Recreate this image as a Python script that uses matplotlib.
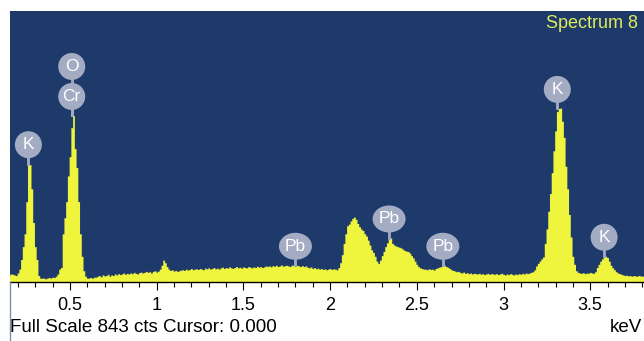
import numpy as np
import matplotlib.pyplot as plt
import matplotlib.transforms as mtransforms
from matplotlib.patches import Ellipse
from matplotlib.lines import Line2D

# EDS spectrum, 10 eV channels starting at 0.15 keV
E_START = 0.15
E_STEP = 0.01
counts = [
    22, 25, 24, 22, 20, 28, 40, 70, 110, 150,
    250, 368, 365, 290, 185, 110, 70, 20, 12, 12,
    12, 10, 12, 14, 12, 15, 14, 18, 25, 40,
    45, 150, 200, 250, 330, 390, 480, 518, 415, 356,
    250, 150, 80, 35, 18, 12, 12, 14, 12, 15,
    15, 18, 20, 16, 22, 19, 20, 24, 18, 22,
    20, 25, 22, 26, 23, 25, 28, 24, 27, 25,
    28, 26, 30, 27, 25, 29, 31, 28, 30, 33,
    30, 32, 28, 33, 35, 31, 34, 40, 52, 68,
    60, 48, 40, 36, 38, 34, 36, 33, 35, 37,
    38, 36, 40, 37, 39, 42, 38, 40, 41, 39,
    42, 40, 38, 43, 41, 44, 40, 42, 45, 41,
    43, 40, 44, 46, 42, 45, 43, 47, 44, 42,
    45, 48, 44, 46, 43, 47, 45, 44, 48, 46,
    44, 47, 45, 49, 46, 48, 45, 47, 50, 48,
    50, 47, 51, 49, 52, 48, 50, 53, 49, 51,
    52, 50, 48, 53, 51, 49, 52, 50, 48, 51,
    48, 50, 46, 44, 47, 42, 45, 41, 43, 40,
    42, 39, 41, 38, 40, 42, 39, 41, 40, 38,
    45, 60, 85, 120, 150, 175, 180, 190, 198, 202,
    195, 182, 172, 165, 160, 150, 143, 130, 115, 100,
    92, 80, 65, 58, 68, 82, 95, 110, 122, 135,
    137, 120, 115, 112, 110, 108, 106, 102, 98, 96,
    95, 90, 82, 75, 65, 55, 48, 44, 42, 40,
    40, 38, 41, 39, 40, 37, 42, 44, 46, 48,
    50, 52, 48, 46, 42, 38, 36, 34, 32, 33,
    30, 28, 31, 27, 29, 26, 28, 25, 27, 26,
    25, 27, 24, 26, 23, 25, 27, 24, 26, 25,
    24, 26, 23, 25, 27, 24, 22, 25, 23, 26,
    24, 22, 25, 23, 26, 24, 27, 25, 28, 26,
    28, 30, 32, 38, 50, 58, 65, 72, 78, 120,
    165, 220, 275, 340, 408, 470, 530, 540, 541, 500,
    450, 360, 290, 210, 140, 80, 55, 35, 30, 28,
    27, 29, 26, 28, 27, 30, 28, 27, 32, 45,
    55, 65, 72, 78, 80, 76, 65, 52, 44, 38,
    32, 28, 26, 24, 22, 20, 21, 19, 20, 18,
    20, 19, 18, 20, 19, 18, 19,
]
counts = np.array(counts)
energy = np.round(E_START + E_STEP * np.arange(len(counts)), 2)

full_scale = 843
spectrum_name = 'Spectrum 8'

# element markers: symbol, line energy (keV), stacking level
peak_labels = ['K', 'Cr', 'O', 'Pb', 'Pb', 'Pb', 'K', 'K']
peak_energies = [0.26, 0.51, 0.51, 1.80, 2.34, 2.65, 3.31, 3.58]
peak_stack = [0, 0, 1, 0, 0, 0, 0, 0]

tick_values = [0.5, 1, 1.5, 2, 2.5, 3, 3.5]
tick_labels = ['0.5', '1', '1.5', '2', '2.5', '3', '3.5']

NAVY = '#1e3a6b'
YELLOW = '#eef53c'
BUBBLE = '#a4acc4'

plt.rcParams['font.family'] = ['Liberation Sans', 'DejaVu Sans']

W, H = 644, 341
fig = plt.figure(figsize=(W / 100, H / 100), dpi=100)
ax = fig.add_axes([10 / W, 1 - 282 / H, 1 - 10 / W, 271 / H])
ax.set_facecolor(NAVY)

ax.fill_between(energy, counts, step='mid', color=YELLOW, lw=0)
ax.set_xlim(0.154, 3.81)
ax.set_ylim(0, full_scale)

for side in ['top', 'right', 'left']:
    ax.spines[side].set_visible(False)
ax.spines['bottom'].set_color('black')
ax.spines['bottom'].set_linewidth(1.0)
ax.set_yticks([])
ax.set_xticks(tick_values, tick_labels)
ax.set_xticks(np.arange(0.2, 3.85, 0.1), minor=True)
ax.tick_params(axis='x', which='major', length=6, width=0.8, labelsize=13, pad=5)
ax.tick_params(axis='x', which='minor', length=3.5, width=0.8)

# labelled bubbles over the peaks
for name, e, level in zip(peak_labels, peak_energies, peak_stack):
    sel = np.abs(energy - e) <= 0.015
    top = counts[sel].max()
    dy = 19 + 30 * level
    bw = 33 if name == 'Pb' else 27
    bh = 27
    trans = mtransforms.Affine2D() + mtransforms.ScaledTranslation(e, top, ax.transData)
    stem = Line2D([0, 0], [0, dy - bh / 2], transform=trans, color=BUBBLE, lw=2,
                  clip_on=False, zorder=3)
    ax.add_line(stem)
    bubble = Ellipse((0, dy), bw, bh, transform=trans, facecolor=BUBBLE,
                     edgecolor='none', clip_on=False, zorder=4)
    ax.add_patch(bubble)
    ax.annotate(name, xy=(e, top), xytext=(0, dy), textcoords='offset pixels',
                ha='center', va='center', color='white', fontsize=12.5, zorder=5)

fig.text(638 / W, 1 - 24 / H, spectrum_name, ha='right', va='center',
         color='#dfea5c', fontsize=13)
fig.text(10 / W, 1 - 332 / H, f'Full Scale {full_scale} cts Cursor: 0.000',
         ha='left', va='baseline', fontsize=13.5)
fig.text(610 / W, 1 - 332 / H, 'keV', ha='left', va='baseline', fontsize=13.5)
fig.add_artist(Line2D([9.5 / W, 9.5 / W], [0, 1 - 282 / H], transform=fig.transFigure,
                      color='#7f8fb0', lw=1))

fig.savefig('out.png', dpi=100)
